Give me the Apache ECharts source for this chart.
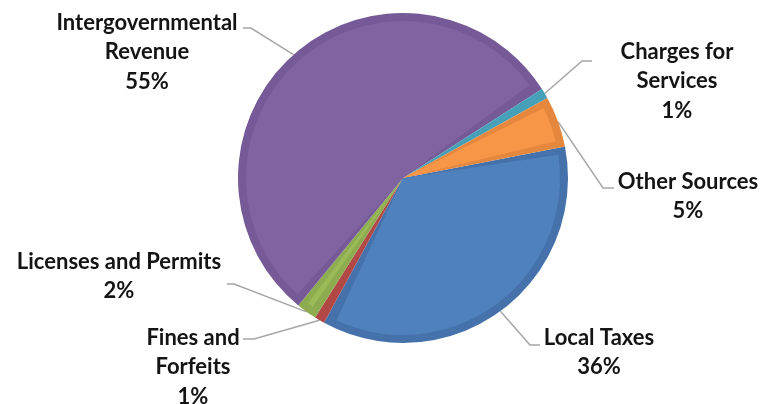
<!DOCTYPE html>
<html>
<head>
<meta charset="utf-8">
<style>
  html, body { margin: 0; padding: 0; background: #ffffff; }
  #chart { width: 761px; height: 404px; }
</style>
<script src="https://cdn.jsdelivr.net/npm/echarts@6/dist/echarts.min.js"></script>
</head>
<body>
<div id="chart"></div>
<script>
// Revenue sources, in clockwise order starting just above 3 o'clock
const categories = ['Local Taxes', 'Fines and\nForfeits', 'Licenses and Permits', 'Intergovernmental\nRevenue', 'Charges for\nServices', 'Other Sources'];
const shares = [36, 1, 2, 55, 1, 5];

// Slice fills and their darker rim shades
const fillColors = ['#4F81BD', '#C0504D', '#9BBB59', '#8064A2', '#4BACC6', '#F79646'];
const rimColors  = ['#4672AB', '#B14845', '#8DAC50', '#755A97', '#45A0B8', '#E5883D'];

// Label placement: text centre x, text top y, and the bend / end of each leader line
const labelPlacement = [
  { cx: 599, top: 323, bend: [530, 345], end: [540, 345] },
  { cx: 193, top: 323, bend: [254, 339], end: [243, 339] },
  { cx: 119, top: 247, bend: [234, 284], end: [227, 284] },
  { cx: 147, top: 8,   bend: [251, 28],  end: [243, 28] },
  { cx: 677, top: 37,  bend: [582, 61],  end: [592, 61] },
  { cx: 688, top: 167, bend: [603, 188], end: [614, 188] }
];

const CENTER = [403, 178];
const START_ANGLE = 11;

const chart = echarts.init(document.getElementById('chart'), null, { renderer: 'canvas' });

function pieData(colors) {
  return categories.map((name, i) => ({
    name: name,
    value: shares[i],
    itemStyle: { color: colors[i] }
  }));
}

chart.setOption({
  animation: false,
  backgroundColor: '#ffffff',
  series: [
    {
      // full-size pie in the rim shades, carrying the labels
      type: 'pie',
      center: CENTER,
      radius: [0, 165],
      startAngle: START_ANGLE,
      clockwise: true,
      avoidLabelOverlap: false,
      silent: true,
      data: pieData(rimColors),
      label: {
        show: true,
        position: 'outside',
        formatter: p => p.name + '\n' + p.value + '%',
        fontFamily: 'Lato',
        fontWeight: 'bold',
        fontSize: 22,
        lineHeight: 29.5,
        color: '#141414'
      },
      labelLine: {
        show: true,
        length: 20,
        length2: 10,
        lineStyle: { color: '#A6A6A6', width: 1.5 }
      },
      labelLayout: function (params) {
        const lp = labelPlacement[params.dataIndex];
        const start = params.labelLinePoints ? params.labelLinePoints[0] : lp.bend;
        return {
          x: lp.cx,
          y: lp.top,
          align: 'center',
          verticalAlign: 'top',
          labelLinePoints: [start, lp.bend, lp.end]
        };
      }
    },
    {
      // slightly smaller inner pie in the main fills, leaving a darker rim
      type: 'pie',
      center: CENTER,
      radius: [0, 157],
      startAngle: START_ANGLE,
      clockwise: true,
      padAngle: 5,
      silent: true,
      data: pieData(fillColors),
      label: { show: false },
      labelLine: { show: false }
    }
  ]
});
</script>
</body>
</html>
